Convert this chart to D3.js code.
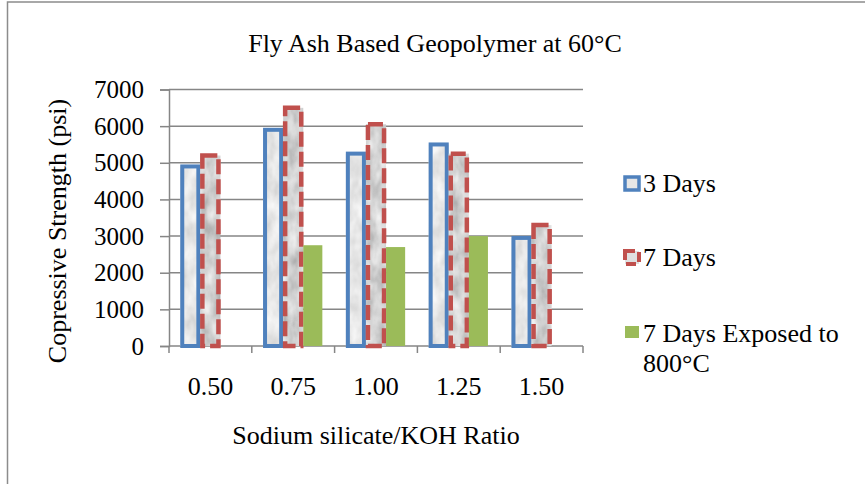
<!DOCTYPE html>
<html>
<head>
<meta charset="utf-8">
<script src="https://cdn.jsdelivr.net/npm/d3@7/dist/d3.min.js"></script>
<style>
  html, body { margin: 0; padding: 0; background: #fff; }
  svg { display: block; font-family: "Liberation Serif", "Times New Roman", serif; }
</style>
</head>
<body>
<svg id="chart" width="865" height="484"></svg>
<script>
// Compressive strength of fly ash geopolymer cured at 60°C
const categories = ["0.50", "0.75", "1.00", "1.25", "1.50"];
const series = ["3 Days", "7 Days", "7 Days Exposed to 800°C"];
const days3 = [4900, 5900, 5250, 5500, 2950];
const days7 = [5200, 6500, 6050, 5250, 3300];
const exposed800 = [null, 2750, 2700, 3000, null];
const yTicks = [0, 1000, 2000, 3000, 4000, 5000, 6000, 7000];

const svg = d3.select("#chart");
const plot = { left: 169, right: 583, top: 89.5, bottom: 346 };

// Outer chart frame
svg.append("path")
  .attr("d", "M7.5,484 V2 H865")
  .attr("fill", "none").attr("stroke", "#8c8c8c").attr("stroke-width", 1.5);

// Mottled grey texture for the outlined bars
const defs = svg.append("defs");
function marble(id, seed, lo, hi, slope) {
  const f = defs.append("filter").attr("id", id)
    .attr("x", 0).attr("y", 0).attr("width", 1).attr("height", 1);
  f.append("feTurbulence").attr("type", "fractalNoise")
    .attr("baseFrequency", "0.08 0.045").attr("numOctaves", 3).attr("seed", seed).attr("result", "n");
  f.append("feColorMatrix").attr("in", "n").attr("type", "matrix")
    .attr("values", `0 0 0 0 ${lo}  0 0 0 0 ${lo}  0 0 0 0 ${lo}  0 0 0 0 1`).attr("result", "base");
  f.append("feColorMatrix").attr("in", "n").attr("type", "luminanceToAlpha").attr("result", "a");
  f.append("feComponentTransfer").attr("in", "a").attr("result", "a2")
    .append("feFuncA").attr("type", "linear").attr("slope", slope).attr("intercept", -0.5);
  f.append("feFlood").attr("flood-color", hi).attr("result", "hiC");
  f.append("feComposite").attr("in", "hiC").attr("in2", "a2").attr("operator", "in").attr("result", "spots");
  f.append("feMerge").call(m => { m.append("feMergeNode").attr("in", "base"); m.append("feMergeNode").attr("in", "spots"); })
    .attr("result", "tex");
  f.append("feComposite").attr("in", "tex").attr("in2", "SourceAlpha").attr("operator", "in");
}
marble("tex3", 3, 0.93, "#cfcfcf", 1.8);
marble("tex7", 7, 0.87, "#b0b0b0", 2.0);

const x0 = d3.scaleBand().domain(categories).range([plot.left, plot.right]).paddingInner(0).paddingOuter(0);
const x1 = d3.scaleBand().domain(series).range([0, x0.bandwidth()]).paddingInner(0).paddingOuter(0.56);
const y = d3.scaleLinear().domain([0, 7000]).range([plot.bottom, plot.top]);

// Horizontal gridlines
svg.append("g").selectAll("line").data(yTicks.slice(1)).join("line")
  .attr("x1", plot.left).attr("x2", plot.right)
  .attr("y1", d => y(d)).attr("y2", d => y(d))
  .attr("stroke", "#868686").attr("stroke-width", 1.5);

// Y axis
const yAxis = svg.append("g").attr("transform", `translate(${plot.left},0)`)
  .call(d3.axisLeft(y).tickValues(yTicks).tickSize(9).tickPadding(16).tickFormat(d3.format("d")));
yAxis.select(".domain").attr("stroke", "#868686").attr("stroke-width", 1.5);
yAxis.selectAll(".tick line").attr("stroke", "#868686").attr("stroke-width", 1.5);
yAxis.selectAll("text").attr("font-size", 25).attr("fill", "#000")
  .attr("font-family", "Liberation Serif, serif");

// X axis with tick marks at category boundaries
const xg = svg.append("g").attr("transform", `translate(0,${plot.bottom})`);
xg.append("line").attr("x1", plot.left).attr("x2", plot.right)
  .attr("stroke", "#868686").attr("stroke-width", 1.5);
const bounds = categories.map(c => x0(c)).concat([x0(categories[categories.length - 1]) + x0.bandwidth()]);
xg.selectAll("line.tk").data(bounds).join("line").attr("class", "tk")
  .attr("x1", d => d).attr("x2", d => d).attr("y1", 0).attr("y2", 7)
  .attr("stroke", "#868686").attr("stroke-width", 1.5);
xg.selectAll("text").data(categories).join("text")
  .attr("x", d => x0(d) + x0.bandwidth() / 2).attr("y", 49)
  .attr("text-anchor", "middle").attr("font-size", 26).text(d => d);

// Bars
const bw = x1.bandwidth();
const g = svg.append("g");
categories.forEach((c, i) => {
  const xc = x0(c);
  // 3 Days: textured fill, solid blue outline
  const xa = xc + x1(series[0]);
  g.append("rect").attr("x", xa).attr("y", y(days3[i])).attr("width", bw).attr("height", y(0) - y(days3[i]))
    .attr("fill", "#eee").attr("filter", "url(#tex3)");
  g.append("rect").attr("x", xa + 2).attr("y", y(days3[i])).attr("width", bw - 4).attr("height", y(0) - y(days3[i]))
    .attr("fill", "none").attr("stroke", "#4f81bd").attr("stroke-width", 4);
  // 7 Days: textured fill, dashed red outline
  const xb = xc + x1(series[1]);
  g.append("rect").attr("x", xb).attr("y", y(days7[i])).attr("width", bw).attr("height", y(0) - y(days7[i]))
    .attr("fill", "#ddd").attr("filter", "url(#tex7)");
  g.append("rect").attr("x", xb + 2).attr("y", y(days7[i])).attr("width", bw - 4).attr("height", y(0) - y(days7[i]))
    .attr("fill", "none").attr("stroke", "#c0504d").attr("stroke-width", 4.5)
    .attr("stroke-dasharray", "15,5");
  // 7 Days exposed to 800°C: solid green
  if (exposed800[i] != null) {
    const xg3 = xc + x1(series[2]);
    g.append("rect").attr("x", xg3).attr("y", y(exposed800[i])).attr("width", bw - 1).attr("height", y(0) - y(exposed800[i]))
      .attr("fill", "#9bbb59");
  }
});

// Title and axis titles
svg.append("text").attr("x", 435).attr("y", 52).attr("text-anchor", "middle")
  .attr("font-size", 26).text("Fly Ash Based Geopolymer at 60°C");
svg.append("text").attr("x", 376).attr("y", 444).attr("text-anchor", "middle")
  .attr("font-size", 26).text("Sodium silicate/KOH Ratio");
svg.append("text").attr("transform", "translate(66,231) rotate(-90)").attr("text-anchor", "middle")
  .attr("font-size", 26).text("Copressive Strength (psi)");

// Legend
const leg = svg.append("g");
leg.append("rect").attr("x", 625).attr("y", 177).attr("width", 14).attr("height", 13)
  .attr("fill", "#e6e6e6").attr("stroke", "#4f81bd").attr("stroke-width", 3.5);
leg.append("text").attr("x", 643).attr("y", 192).attr("font-size", 26).text(series[0]);
leg.append("rect").attr("x", 625).attr("y", 251).attr("width", 14).attr("height", 13)
  .attr("fill", "#e0e0e0").attr("stroke", "#c0504d").attr("stroke-width", 4)
  .attr("stroke-dasharray", "10,5");
leg.append("text").attr("x", 643).attr("y", 266).attr("font-size", 26).text(series[1]);
leg.append("rect").attr("x", 625).attr("y", 326).attr("width", 14).attr("height", 12).attr("fill", "#9bbb59");
leg.append("text").attr("x", 643).attr("y", 342).attr("font-size", 26).text("7 Days Exposed to");
leg.append("text").attr("x", 643).attr("y", 372).attr("font-size", 26).text("800°C");
</script>
</body>
</html>
